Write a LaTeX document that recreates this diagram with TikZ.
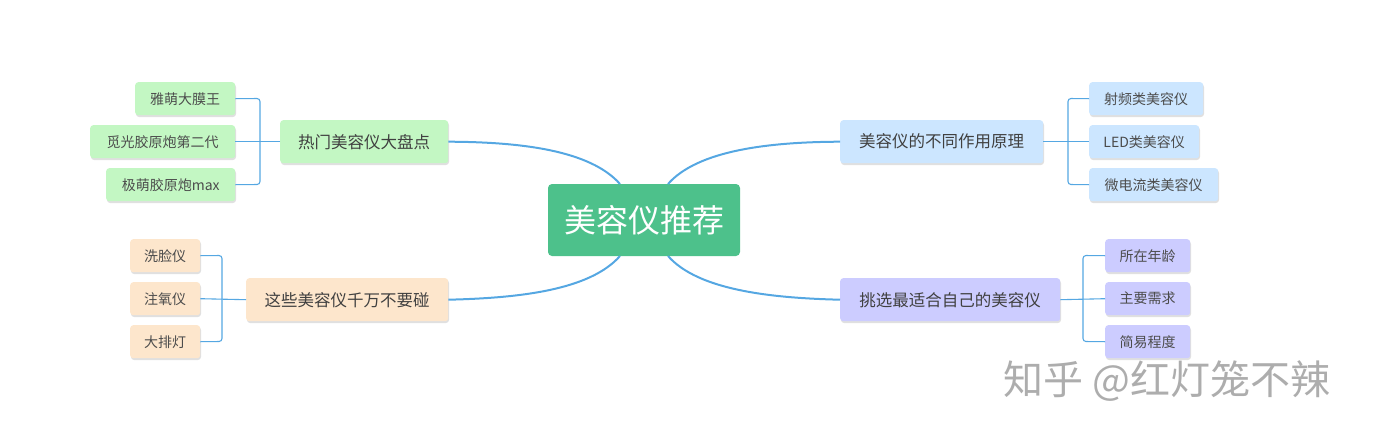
\documentclass[tikz,border=0pt]{standalone}
\usepackage{fontspec}
\setmainfont{Noto Sans CJK SC}
\begin{document}
\begin{tikzpicture}[x=1pt,y=-1pt,
  box/.style={draw=none,rounded corners=3pt,inner sep=0pt,text=black!75,font=\fontsize{16.5}{16.5}\selectfont},
  leaf/.style={box,font=\fontsize{14}{14}\selectfont,text=black!70}]
\definecolor{lg}{HTML}{C3F7C3}\definecolor{pe}{HTML}{FDE6CC}
\definecolor{lb}{HTML}{CCE6FF}\definecolor{lv}{HTML}{CCCCFF}
\definecolor{cg}{HTML}{4DC18B}\definecolor{lc}{HTML}{55A7E2}
\tikzset{ln/.style={draw=lc,line width=2pt},br/.style={draw=lc,line width=1.1pt}}
\useasboundingbox (0,0) rectangle (1377,439);
\newcommand{\bx}[7]{\fill[black!12,rounded corners=3pt] (#2+1,#3+2) rectangle (#4+1,#5+2);
 \node[#6,fill=#7,minimum width=#4-#2,minimum height=#5-#3,anchor=north west] (#1) at (#2,#3) {};}
% center
\fill[cg,rounded corners=4pt] (548,184) rectangle (740,256);
\node[text=white,font=\fontsize{32}{32}\selectfont] (c) at (644,220) {美容仪推荐};
\coordinate (ctl) at (620,184);\coordinate (ctr) at (668,184);
\coordinate (cbl) at (620,256);\coordinate (cbr) at (668,256);
% branches
\bx{a}{280}{120}{448}{163}{box}{lg}\node[box] at (a) {热门美容仪大盘点};
\bx{b}{246}{278}{448}{321}{box}{pe}\node[box] at (b) {这些美容仪千万不要碰};
\bx{d}{840}{120}{1043}{163}{box}{lb}\node[box] at (d) {美容仪的不同作用原理};
\bx{e}{840}{278}{1060}{321}{box}{lv}\node[box] at (e) {挑选最适合自己的美容仪};
\draw[ln] (ctl) .. controls (590,150) and (520,142) .. (a.east);
\draw[ln] (cbl) .. controls (590,290) and (520,298) .. (b.east);
\draw[ln] (ctr) .. controls (698,150) and (770,142) .. (d.west);
\draw[ln] (cbr) .. controls (698,290) and (770,298) .. (e.west);
% leaves
\bx{a1}{135}{82}{235}{115}{leaf}{lg}\node[leaf] at (a1) {雅萌大膜王};
\bx{a2}{90}{125}{235}{158}{leaf}{lg}\node[leaf] at (a2) {觅光胶原炮第二代};
\bx{a3}{106}{168}{235}{201}{leaf}{lg}\node[leaf] at (a3) {极萌胶原炮max};
\bx{b1}{130}{239}{200}{272}{leaf}{pe}\node[leaf] at (b1) {洗脸仪};
\bx{b2}{130}{282}{200}{315}{leaf}{pe}\node[leaf] at (b2) {注氧仪};
\bx{b3}{130}{325}{200}{358}{leaf}{pe}\node[leaf] at (b3) {大排灯};
\bx{d1}{1089}{82}{1203}{115}{leaf}{lb}\node[leaf] at (d1) {射频类美容仪};
\bx{d2}{1089}{125}{1199}{158}{leaf}{lb}\node[leaf] at (d2) {LED类美容仪};
\bx{d3}{1089}{168}{1218}{201}{leaf}{lb}\node[leaf] at (d3) {微电流类美容仪};
\bx{e1}{1105}{239}{1190}{272}{leaf}{lv}\node[leaf] at (e1) {所在年龄};
\bx{e2}{1105}{282}{1190}{315}{leaf}{lv}\node[leaf] at (e2) {主要需求};
\bx{e3}{1105}{325}{1190}{358}{leaf}{lv}\node[leaf] at (e3) {简易程度};
% brackets
\draw[br] (a.west) -- (a2.east);
\draw[br,rounded corners=3pt] (a1.east) -- (260,98.5) -- (260,184.5) -- (a3.east);
\draw[br] (b.west) -- (b2.east);
\draw[br,rounded corners=3pt] (b1.east) -- (222,255.5) -- (222,341.5) -- (b3.east);
\draw[br] (d.east) -- (d2.west);
\draw[br,rounded corners=3pt] (d1.west) -- (1068,98.5) -- (1068,184.5) -- (d3.west);
\draw[br] (e.east) -- (e2.west);
\draw[br,rounded corners=3pt] (e1.west) -- (1083,255.5) -- (1083,341.5) -- (e3.west);
% watermark
\node[text=black!32,font=\fontsize{40}{40}\selectfont,anchor=west] (w) at (1000,381) {知乎 @红灯笼不辣};
\end{tikzpicture}
\end{document}
